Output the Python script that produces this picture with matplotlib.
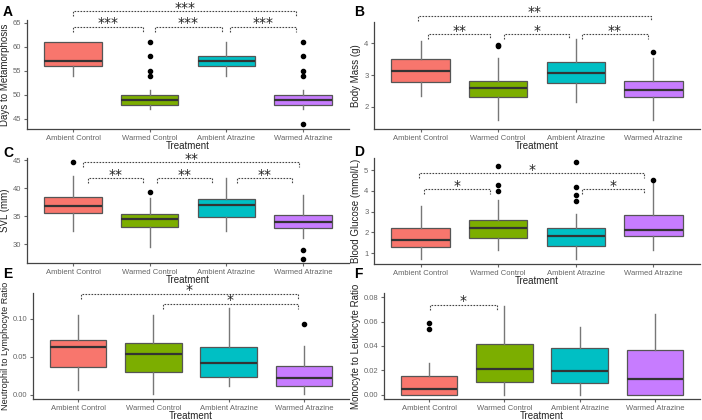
import numpy as np
import matplotlib
matplotlib.use("Agg")
import matplotlib.pyplot as plt

plt.rcParams['font.family'] = ['Liberation Sans', 'DejaVu Sans']

groups = ["Ambient Control", "Warmed Control", "Ambient Atrazine", "Warmed Atrazine"]
fills = ["#F8766D", "#7CAE00", "#00BFC4", "#C77CFF"]

# box stats: median, q1, q3, whisker low, whisker high, outliers
days_med = [57, 49, 57, 49]
days_q1 = [56, 48, 56, 48]
days_q3 = [61, 50, 58, 50]
days_lo = [54, 47, 54, 47]
days_hi = [61, 51, 61, 51]
days_out = [[], [54, 55, 58, 61], [], [44, 54, 55, 58, 61]]

mass_med = [3.14, 2.58, 3.06, 2.52]
mass_q1 = [2.78, 2.31, 2.75, 2.31]
mass_q3 = [3.50, 2.82, 3.40, 2.80]
mass_lo = [2.33, 1.58, 2.15, 1.58]
mass_hi = [4.05, 3.53, 4.12, 3.53]
mass_out = [[], [3.90, 3.95], [], [3.72]]

svl_med = [36.8, 34.4, 37.0, 33.9]
svl_q1 = [35.6, 33.0, 34.9, 32.8]
svl_q3 = [38.4, 35.4, 38.0, 35.2]
svl_lo = [32.4, 29.5, 32.4, 31.0]
svl_hi = [42.2, 38.3, 41.8, 38.7]
svl_out = [[44.6], [39.4], [], [28.9, 27.3]]

glu_med = [1.61, 2.20, 1.80, 2.10]
glu_q1 = [1.29, 1.71, 1.35, 1.80]
glu_q3 = [2.20, 2.58, 2.20, 2.85]
glu_lo = [0.73, 1.13, 0.73, 1.13]
glu_hi = [3.27, 3.57, 2.90, 4.45]
glu_out = [[], [4.0, 4.3, 5.2], [3.5, 3.8, 4.2, 5.4], [4.52]]

nl_med = [0.0632, 0.0535, 0.0417, 0.0220]
nl_q1 = [0.0364, 0.0303, 0.0232, 0.0123]
nl_q3 = [0.0724, 0.0684, 0.0627, 0.0377]
nl_lo = [0.0070, 0.0013, 0.0114, 0.0013]
nl_hi = [0.1048, 0.1048, 0.1145, 0.0650]
nl_out = [[], [], [], [0.0939]]

ml_med = [0.0052, 0.0211, 0.0198, 0.0127]
ml_q1 = [0.0, 0.0108, 0.0095, 0.0]
ml_q3 = [0.0155, 0.0418, 0.0382, 0.0366]
ml_lo = [0.0, 0.0, 0.0, 0.0]
ml_hi = [0.0258, 0.0724, 0.0556, 0.0660]
ml_out = [[0.0537, 0.0586], [], [], []]

# significance brackets: x start, x end, height, label
days_sig = [(1.0, 3.91, 67.4, "***"), (1.0, 1.91, 64.2, "***"),
            (2.07, 2.94, 64.2, "***"), (3.05, 3.91, 64.2, "***")]
mass_sig = [(0.97, 3.97, 4.86, "**"), (1.10, 1.90, 4.28, "**"),
            (2.08, 2.91, 4.28, "*"), (3.08, 3.93, 4.28, "**")]
svl_sig = [(1.13, 3.95, 44.6, "**"), (1.20, 1.91, 41.8, "**"),
           (2.10, 2.81, 41.8, "**"), (3.14, 3.86, 41.8, "**")]
glu_sig = [(0.98, 3.88, 4.84, "*"), (1.05, 1.90, 4.07, "*"),
           (3.08, 3.88, 4.07, "*")]
nl_sig = [(1.04, 3.92, 0.133, "*"), (2.13, 3.92, 0.1197, "*")]
ml_sig = [(1.01, 1.90, 0.0738, "*")]

panels = [
    dict(letter="A", ylabel="Days to Metamorphosis", stats=(days_med, days_q1, days_q3, days_lo, days_hi, days_out),
         sig=days_sig, ylim=(42.9, 65.6), yticks=[45, 50, 55, 60, 65], fmt="{:.0f}",
         rect=(27, 20, 349, 129), lpos=(3, 12), ysize=7),
    dict(letter="B", ylabel="Body Mass (g)", stats=(mass_med, mass_q1, mass_q3, mass_lo, mass_hi, mass_out),
         sig=mass_sig, ylim=(1.31, 4.66), yticks=[2, 3, 4], fmt="{:.0f}",
         rect=(374, 22, 700, 129), lpos=(354, 12), ysize=7),
    dict(letter="C", ylabel="SVL (mm)", stats=(svl_med, svl_q1, svl_q3, svl_lo, svl_hi, svl_out),
         sig=svl_sig, ylim=(26.6, 45.4), yticks=[30, 35, 40, 45], fmt="{:.0f}",
         rect=(27, 158, 349, 263), lpos=(3, 153), ysize=7),
    dict(letter="D", ylabel="Blood Glucose (mmol/L)", stats=(glu_med, glu_q1, glu_q3, glu_lo, glu_hi, glu_out),
         sig=glu_sig, ylim=(0.47, 5.58), yticks=[1, 2, 3, 4, 5], fmt="{:.0f}",
         rect=(374, 158, 700, 264), lpos=(354, 152), ysize=7),
    dict(letter="E", ylabel="Neutrophil to Lymphocyte Ratio", stats=(nl_med, nl_q1, nl_q3, nl_lo, nl_hi, nl_out),
         sig=nl_sig, ylim=(-0.0053, 0.1342), yticks=[0.0, 0.05, 0.10], fmt="{:.2f}",
         rect=(33, 293, 349, 399), lpos=(3, 274), ysize=6.6),
    dict(letter="F", ylabel="Monocyte to Leukocyte Ratio", stats=(ml_med, ml_q1, ml_q3, ml_lo, ml_hi, ml_out),
         sig=ml_sig, ylim=(-0.0033, 0.0833), yticks=[0.0, 0.02, 0.04, 0.06, 0.08], fmt="{:.2f}",
         rect=(384, 293, 700, 399), lpos=(354, 274), ysize=7),
]

W, H = 702, 420
fig = plt.figure(figsize=(W / 100, H / 100), dpi=100)
fig.patch.set_facecolor("white")

for p in panels:
    x0, y0, x1, y1 = p["rect"]
    ax = fig.add_axes([x0 / W, 1 - y1 / H, (x1 - x0) / W, (y1 - y0) / H])
    med, q1, q3, lo, hi, out = p["stats"]
    bstats = [dict(med=med[i], q1=q1[i], q3=q3[i], whislo=lo[i], whishi=hi[i], fliers=out[i], label=groups[i])
              for i in range(4)]
    bp = ax.bxp(bstats, positions=[1, 2, 3, 4], widths=0.75, patch_artist=True, showcaps=False,
                boxprops=dict(edgecolor="#555555", linewidth=0.9),
                medianprops=dict(color="#333333", linewidth=1.6),
                whiskerprops=dict(color="#777777", linewidth=1.0),
                flierprops=dict(marker="o", markerfacecolor="black", markeredgecolor="black", markersize=3))
    for patch, c in zip(bp["boxes"], fills):
        patch.set_facecolor(c)
    ax.set_xlim(0.4, 4.6)
    ax.set_ylim(*p["ylim"])
    ax.set_yticks(p["yticks"])
    ax.set_yticklabels([p["fmt"].format(v) for v in p["yticks"]])
    ax.set_xticks([1, 2, 3, 4])
    ax.set_xticklabels(groups)
    for s in ["top", "right"]:
        ax.spines[s].set_visible(False)
    for s in ["left", "bottom"]:
        ax.spines[s].set_color("#444444")
        ax.spines[s].set_linewidth(0.9)
    ax.tick_params(axis="both", colors="#666666", labelsize=5.5, length=2.5, width=0.8, pad=1.5)
    ax.set_xlabel("Treatment", fontsize=7, color="#222222", labelpad=-0.5)
    ax.set_ylabel(p["ylabel"], fontsize=p["ysize"], color="#222222", labelpad=2)

    # significance brackets (drawn outside the panel like ggsignif with clip off)
    ph = (y1 - y0) / (p["ylim"][1] - p["ylim"][0])  # pixels per data unit
    drop = 5 / ph
    for xa, xb, yb, lab in p["sig"]:
        ax.plot([xa, xa, xb, xb], [yb - drop, yb, yb, yb - drop], color="#444444", lw=0.8,
                linestyle=(0, (1.5, 1.2)), clip_on=False)
        ax.annotate(lab, xy=((xa + xb) / 2, yb), xytext=(0, -2.5), textcoords="offset points",
                    ha="center", va="bottom", fontsize=10, family="DejaVu Sans", color="#222222",
                    annotation_clip=False)

    lx, ly = p["lpos"]
    fig.text(lx / W, 1 - ly / H, p["letter"], fontsize=10, fontweight="bold", ha="left", va="center")

fig.savefig("out.png", dpi=100)
